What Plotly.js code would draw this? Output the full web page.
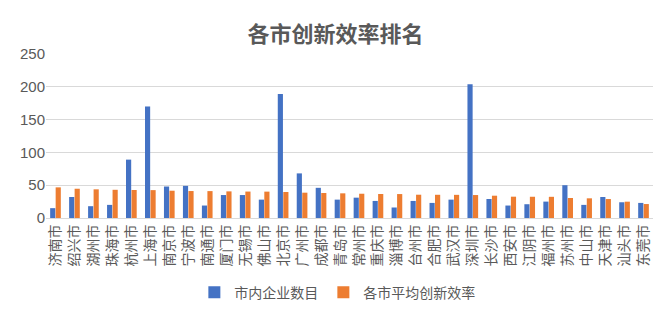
<!DOCTYPE html>
<html>
<head>
<meta charset="utf-8">
<script src="https://cdn.plot.ly/plotly-3.0.1.min.js"></script>
<style>html,body{margin:0;padding:0;background:#fff;}#chart{width:671px;height:313px;}</style>
</head>
<body>
<div id="chart"></div>
<script>
const cities = ["济南市","绍兴市","湖州市","珠海市","杭州市","上海市","南京市","宁波市","南通市","厦门市","无锡市","佛山市","北京市","广州市","成都市","青岛市","常州市","重庆市","淄博市","台州市","合肥市","武汉市","深圳市","长沙市","西安市","江阴市","福州市","苏州市","中山市","天津市","汕头市","东莞市"];
const companyCount = [15,32,18,20,89,170,48,49,19,35,35,28,189,68,46,28,31,26,16,26,23,28,204,29,19,21,25,50,20,32,24,23];
const avgEfficiency = [46.7,44.6,43.7,43,42.7,42.5,41.6,41.1,41,40.6,40.3,40.2,39.6,38.6,38.1,37.6,37,36.6,36.5,35.5,35.4,35.3,35,34,32.5,32.4,32.3,30.5,30,28.9,24.9,21.3];
const seriesNames = ["市内企业数目","各市平均创新效率"];
const titleText = "各市创新效率排名";

const font = "Liberation Sans, Noto Sans CJK SC, sans-serif";
const data = [
  {type:"bar", x:cities, y:companyCount, name:seriesNames[0], marker:{color:"#4472C4"}},
  {type:"bar", x:cities, y:avgEfficiency, name:seriesNames[1], marker:{color:"#ED7D31"}}
];
const layout = {
  width:671, height:313,
  margin:{l:46, r:18, t:54, b:95, autoexpand:false},
  paper_bgcolor:"#fff", plot_bgcolor:"#fff",
  font:{family:font, color:"#595959"},
  title:{text:titleText, font:{family:"Noto Sans CJK SC, sans-serif", size:22, color:"#595959", weight:"bold"}, x:0.5, xanchor:"center", y:0.89, yanchor:"middle", automargin:false},
  barmode:"group", bargap:0.42, bargroupgap:0.06,
  showlegend:true,
  legend:{orientation:"h", x:0.48, xanchor:"center", y:-0.455, yanchor:"middle", itemwidth:30, font:{family:"Noto Sans CJK SC, sans-serif", size:14, color:"#595959"}},
  xaxis:{tickangle:-90, tickfont:{family:"Noto Sans CJK SC, sans-serif", size:14, color:"#595959"}, showline:true, linecolor:"#D9D9D9", ticks:"", automargin:false},
  yaxis:{range:[0,250], dtick:50, gridcolor:"#D9D9D9", gridwidth:1, zeroline:false, tickfont:{family:font, size:15, color:"#595959"}, ticks:"", automargin:false}
};
Plotly.newPlot("chart", data, layout, {displayModeBar:false, staticPlot:true});
</script>
</body>
</html>
